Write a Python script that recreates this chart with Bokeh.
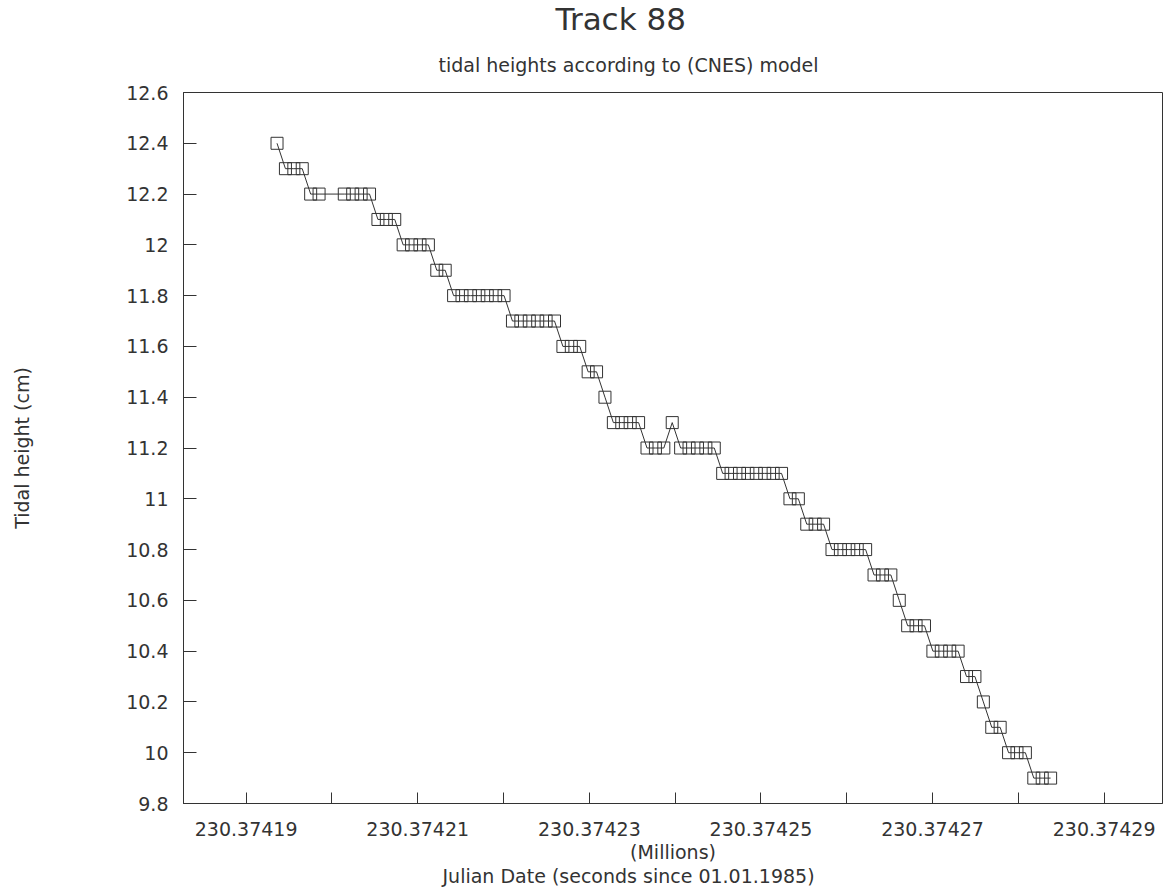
from bokeh.plotting import figure
from bokeh.models import (Range1d, FixedTicker, PrintfTickFormatter,
                          CustomJSTickFormatter, Title, ColumnDataSource)
from bokeh.embed import file_html
from bokeh.resources import INLINE

# ---------------- data ----------------
title_text = "Track 88"
subtitle_text = "tidal heights according to (CNES) model"
x_label_line1 = "(Millions)"
x_label_line2 = "Julian Date (seconds since 01.01.1985)"
y_label_text = "Tidal height (cm)"

# seconds after 230374000 s (Julian date, seconds since 01.01.1985)
time_offset_s = [
    193.60, 194.58, 195.56, 196.54, 197.52, 198.50,
    201.44, 202.42, 203.40, 204.38, 205.36, 206.34, 207.32, 208.30,
    209.28, 210.26, 211.24, 212.22, 213.20, 214.18, 215.16, 216.14,
    217.12, 218.10, 219.08, 220.06, 221.04, 222.02, 223.00, 223.98,
    224.96, 225.94, 226.92, 227.90, 228.88, 229.86, 230.84, 231.82,
    232.80, 233.78, 234.76, 235.74, 236.72, 237.70, 238.68, 239.66,
    240.64, 241.62, 242.60, 243.58, 244.56, 245.54, 246.52, 247.50,
    248.48, 249.46, 250.44, 251.42, 252.40, 253.38, 254.36, 255.34,
    256.32, 257.30, 258.28, 259.26, 260.24, 261.22, 262.20, 263.18,
    264.16, 265.14, 266.12, 267.10, 268.08, 269.06, 270.04, 271.02,
    272.00, 272.98, 273.96, 274.94, 275.92, 276.90, 277.88, 278.86,
    279.84, 280.82, 281.80, 282.78, 283.76,
]

tidal_height_cm = [
    12.4, 12.3, 12.3, 12.3, 12.2, 12.2,
    12.2, 12.2, 12.2, 12.2, 12.1, 12.1, 12.1, 12.0,
    12.0, 12.0, 12.0, 11.9, 11.9, 11.8, 11.8, 11.8,
    11.8, 11.8, 11.8, 11.8, 11.7, 11.7, 11.7, 11.7,
    11.7, 11.7, 11.6, 11.6, 11.6, 11.5, 11.5, 11.4,
    11.3, 11.3, 11.3, 11.3, 11.2, 11.2, 11.2, 11.3,
    11.2, 11.2, 11.2, 11.2, 11.2, 11.1, 11.1, 11.1,
    11.1, 11.1, 11.1, 11.1, 11.1, 11.0, 11.0, 10.9,
    10.9, 10.9, 10.8, 10.8, 10.8, 10.8, 10.8, 10.7,
    10.7, 10.7, 10.6, 10.5, 10.5, 10.5, 10.4, 10.4,
    10.4, 10.4, 10.3, 10.3, 10.2, 10.1, 10.1, 10.0,
    10.0, 10.0, 9.9, 9.9, 9.9,
]

x_major_ticks = [230.37419, 230.37421, 230.37423, 230.37425, 230.37427, 230.37429]
x_minor_ticks = [230.37420, 230.37422, 230.37424, 230.37426, 230.37428]
y_ticks = [9.8, 10.0, 10.2, 10.4, 10.6, 10.8, 11.0, 11.2, 11.4, 11.6,
           11.8, 12.0, 12.2, 12.4, 12.6]

x_range_millions = (230.3741827, 230.3742968)
y_range_cm = (9.8, 12.6)

# ---------------- plot ----------------
julian_millions = [(230374000.0 + s) / 1e6 for s in time_offset_s]
source = ColumnDataSource(data=dict(x=julian_millions, y=tidal_height_cm))

FONT = "DejaVu Sans"
INK = "#333333"

p = figure(width=1166, height=895, output_backend="svg", toolbar_location=None,
           x_range=Range1d(*x_range_millions), y_range=Range1d(*y_range_cm),
           min_border_left=183, min_border_right=4,
           min_border_top=92, min_border_bottom=92)
p.title.visible = False
p.grid.visible = False
p.outline_line_color = INK
p.outline_line_width = 1
p.background_fill_color = "white"
p.border_fill_color = "white"

xa = p.xaxis[0]
xa.ticker = FixedTicker(ticks=x_major_ticks, minor_ticks=x_minor_ticks)
xa.formatter = PrintfTickFormatter(format="%.5f")
xa.major_tick_in = 11
xa.major_tick_out = 0
xa.minor_tick_in = 11
xa.minor_tick_out = 0
xa.major_tick_line_color = INK
xa.minor_tick_line_color = INK
xa.axis_line_color = INK
xa.major_label_standoff = 18
xa.major_label_text_font = FONT
xa.major_label_text_font_size = "19px"
xa.major_label_text_color = INK

ya = p.yaxis[0]
ya.ticker = FixedTicker(ticks=y_ticks, minor_ticks=[])
ya.formatter = CustomJSTickFormatter(code="return String(Math.round(tick*10)/10);")
ya.major_tick_in = 13
ya.major_tick_out = 0
ya.minor_tick_in = 0
ya.minor_tick_out = 0
ya.major_tick_line_color = INK
ya.major_tick_line_width = 1
ya.axis_line_color = INK
ya.major_label_standoff = 15
ya.major_label_text_font = FONT
ya.major_label_text_font_size = "19px"
ya.major_label_text_color = INK
ya.axis_label = y_label_text
ya.axis_label_text_font = FONT
ya.axis_label_text_font_size = "19px"
ya.axis_label_text_font_style = "normal"
ya.axis_label_text_color = INK
ya.axis_label_standoff = 90

p.line("x", "y", source=source, line_color=INK, line_width=1)
p.scatter("x", "y", source=source, marker="square", size=12,
          fill_color=None, line_color=INK, line_width=1)

# titles above the frame (nearest first)
p.add_layout(Title(text=subtitle_text, align="left", offset=255, standoff=30,
                   vertical_align="top",
                   text_font=FONT, text_font_size="19px",
                   text_font_style="normal", text_color=INK), "above")
p.add_layout(Title(text=title_text, align="left", offset=372, standoff=0,
                   vertical_align="top", text_line_height=0.8,
                   text_font=FONT, text_font_size="31px",
                   text_font_style="normal", text_color=INK), "above")

# x-axis caption lines below the axis
p.add_layout(Title(text=x_label_line1, align="center", standoff=0,
                   text_font=FONT, text_font_size="19px",
                   text_font_style="normal", text_color=INK), "below")
p.add_layout(Title(text=x_label_line2, align="left", offset=259, standoff=0,
                   text_font=FONT, text_font_size="19px",
                   text_font_style="normal", text_color=INK), "below")

open("out.html", "w").write(file_html(p, INLINE))
